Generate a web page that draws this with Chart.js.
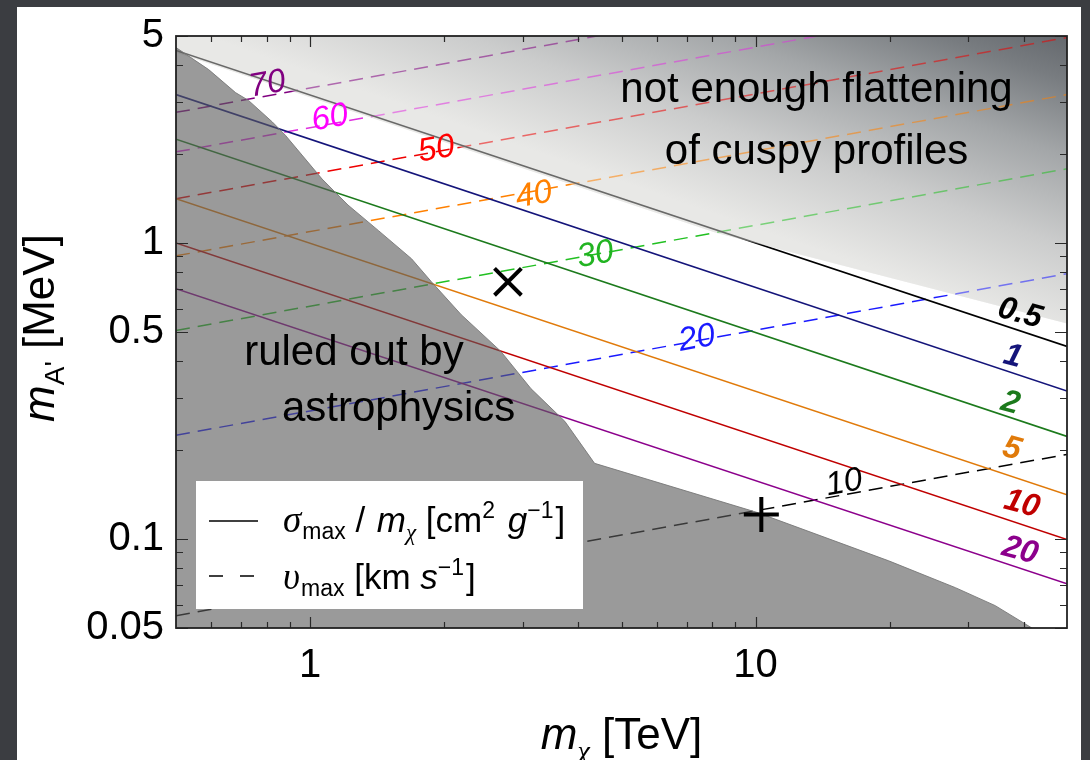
<!DOCTYPE html>
<html>
<head>
<meta charset="utf-8">
<script src="https://cdn.jsdelivr.net/npm/chart.js@4.4.1/dist/chart.umd.min.js"></script>
<style>
  html, body { margin: 0; padding: 0; }
  body { width: 1090px; height: 760px; background: #3b3d41; position: relative; overflow: hidden; }
  #panel { position: absolute; left: 17px; top: 7px; width: 1064px; height: 760px; background: #fff; }
  #wrap { position: absolute; left: 0; top: 0; width: 1090px; height: 760px; }
</style>
</head>
<body>
<div id="panel"></div>
<div id="wrap"><canvas id="chart" width="1090" height="760"></canvas></div>
<script>
// axes (log-log)
const xRange = [0.5, 50];
const yRange = [0.05, 5];
const xTickLabels = [1, 10];
const xMinorTicks = [0.6, 0.7, 0.8, 0.9, 2, 3, 4, 5, 6, 7, 8, 9, 20, 30, 40];
const yTickLabels = [0.05, 0.1, 0.5, 1, 5];
const yMinorTicks = [0.06, 0.07, 0.08, 0.09, 0.2, 0.3, 0.4, 0.6, 0.7, 0.8, 0.9, 2, 3, 4];

// sigma_max / m_chi contours (solid): m_A' at the two ends of the x range
const sigmaLevels = ['0.5', '1', '2', '5', '10', '20'];
const sigmaEnds = [0.5, 50];
const sigmaAtStart = [4.47, 3.17, 2.24, 1.41, 1.0, 0.70];
const sigmaAtEnd = [0.447, 0.316, 0.222, 0.141, 0.0995, 0.0705];
const sigmaColors = ['#000000', '#14147a', '#1c7a1c', '#e07a0a', '#c00000', '#8c008c'];
const sigmaLabelX = [39.2, 37.8, 37.3, 37.6, 39.6, 39.2];
const sigmaLabelY = [0.577, 0.413, 0.287, 0.201, 0.131, 0.0912];

// v_max contours (dashed)
const vLevels = ['10', '20', '30', '40', '50', '60', '70'];
const vEnds = [0.5, 50];
const vAtStart = [0.055, 0.224, 0.506, 0.904, 1.41, 2.03, 2.76];
const vAtEnd = [0.193, 0.787, 1.78, 3.17, 4.94, 7.1, 9.7];
const vColors = ['#000000', '#1a1aff', '#22c022', '#ff8000', '#ee0000', '#e030e0', '#800080'];
const vLabelColors = ['#000000', '#1a1aff', '#22b422', '#ff8000', '#ff0000', '#ff00ff', '#800080'];
const vLabelX = [15.8, 7.38, 4.37, 3.18, 1.92, 1.108, 0.802];
const vLabelY = [0.1544, 0.475, 0.911, 1.45, 2.07, 2.64, 3.43];

// excluded regions
const astroX = [0.5, 0.592, 0.68, 0.727, 0.823, 0.88, 1.064, 1.216, 1.426, 1.689, 1.872, 2.184, 2.68, 3.13, 3.73, 4.35, 10.05, 19.9, 28.1, 34.5, 41.7];
const astroY = [4.57, 3.85, 3.22, 3.03, 2.56, 2.31, 1.643, 1.343, 1.098, 0.884, 0.739, 0.572, 0.430, 0.322, 0.2496, 0.180, 0.123, 0.0843, 0.0684, 0.0595, 0.05];
const flatX = [0.5, 8.18, 50];
const flatY = [4.40, 1.08, 0.534];

// benchmark points
const crossX = [2.78], crossY = [0.739];
const plusX = [10.3], plusY = [0.121];

const SANS = '"Liberation Sans", Arial, Helvetica, sans-serif';
const SERIF = '"Liberation Serif", "DejaVu Serif", serif';

const pts = (xs, ys) => xs.map((x, i) => ({ x: x, y: ys[i] }));

function flatGradient(chart, alpha) {
  const a = chart.chartArea;
  if (!a) return 'rgba(200,200,200,' + alpha + ')';
  const g = chart.ctx.createLinearGradient(a.left + 624, a.top + 208, a.left + 718, a.top - 61);
  const stops = [[0, '232,232,230'], [0.3, '203,204,204'], [0.6, '163,166,168'], [0.85, '120,124,128'], [1, '100,104,109']];
  stops.forEach(s => g.addColorStop(s[0], 'rgba(' + s[1] + ',' + alpha + ')'));
  return g;
}

const datasets = [];
datasets.push({
  data: pts(flatX, flatY), showLine: true, fill: 'end', borderWidth: 0, pointRadius: 0,
  backgroundColor: c => flatGradient(c.chart, 1), order: 5
});
sigmaLevels.forEach((lv, i) => {
  datasets.push({
    label: 'sigma ' + lv, data: pts(sigmaEnds, [sigmaAtStart[i], sigmaAtEnd[i]]),
    showLine: true, fill: false, borderColor: sigmaColors[i], borderWidth: 1.6, pointRadius: 0, order: 4
  });
});
vLevels.forEach((lv, i) => {
  datasets.push({
    label: 'v ' + lv, data: pts(vEnds, [vAtStart[i], vAtEnd[i]]),
    showLine: true, fill: false, borderColor: vColors[i], borderWidth: 1.5, borderDash: [14, 8], pointRadius: 0, order: 4
  });
});
datasets.push({
  data: pts(flatX, flatY), showLine: true, fill: 'end', borderWidth: 0, pointRadius: 0,
  backgroundColor: c => flatGradient(c.chart, 0.45), order: 3
});
datasets.push({
  data: pts(astroX, astroY), showLine: true, fill: 'start', pointRadius: 0,
  backgroundColor: 'rgba(92,92,92,0.62)', borderColor: 'rgba(120,120,120,0.9)', borderWidth: 1, order: 2
});
datasets.push({
  data: pts(crossX, crossY), pointStyle: 'crossRot', pointRadius: 19, pointBorderWidth: 4,
  pointBorderColor: '#000', borderColor: '#000', order: 1
});
datasets.push({
  data: pts(plusX, plusY), pointStyle: 'cross', pointRadius: 17.5, pointBorderWidth: 4,
  pointBorderColor: '#000', borderColor: '#000', order: 1
});

function drawRuns(ctx, x, y, runs, align) {
  let w = 0;
  runs.forEach(r => { ctx.font = r.font; w += ctx.measureText(r.t).width + (r.gap || 0); });
  let cx = align === 'center' ? x - w / 2 : x;
  runs.forEach(r => {
    ctx.font = r.font;
    ctx.fillText(r.t, cx, y + (r.dy || 0));
    cx += ctx.measureText(r.t).width + (r.gap || 0);
  });
}

const decorations = {
  id: 'decorations',
  afterDatasetsDraw(chart) {
    const ctx = chart.ctx, a = chart.chartArea;
    const xs = chart.scales.x, ys = chart.scales.y;
    ctx.save();

    // region texts
    ctx.fillStyle = '#000';
    ctx.textAlign = 'center';
    ctx.textBaseline = 'middle';
    ctx.font = '42px ' + SANS;
    ctx.fillText('not enough flattening', xs.getPixelForValue(13.7), ys.getPixelForValue(3.27));
    ctx.fillText('of cuspy profiles', xs.getPixelForValue(13.7), ys.getPixelForValue(2.02));
    ctx.fillText('ruled out by', xs.getPixelForValue(1.254), ys.getPixelForValue(0.423));
    ctx.fillText('astrophysics', xs.getPixelForValue(1.58), ys.getPixelForValue(0.274));

    // contour labels
    vLevels.forEach((lv, i) => {
      ctx.save();
      ctx.translate(xs.getPixelForValue(vLabelX[i]), ys.getPixelForValue(vLabelY[i]));
      ctx.rotate(-10.3 * Math.PI / 180);
      ctx.fillStyle = vLabelColors[i];
      ctx.font = 'italic 33px ' + SANS;
      ctx.fillText(lv, 0, 0);
      ctx.restore();
    });
    sigmaLevels.forEach((lv, i) => {
      ctx.save();
      ctx.translate(xs.getPixelForValue(sigmaLabelX[i]), ys.getPixelForValue(sigmaLabelY[i]));
      ctx.rotate(15 * Math.PI / 180);
      ctx.fillStyle = sigmaColors[i];
      ctx.font = 'italic bold 32px ' + SANS;
      ctx.fillText(lv, 0, 0);
      ctx.restore();
    });

    // legend box
    const bx = a.left + 20, by = a.bottom - 147, bw = 387, bh = 128;
    ctx.fillStyle = '#fff';
    ctx.fillRect(bx, by, bw, bh);
    ctx.strokeStyle = '#000';
    ctx.lineWidth = 1.6;
    ctx.beginPath();
    ctx.moveTo(bx + 13, by + 40); ctx.lineTo(bx + 62, by + 40);
    ctx.stroke();
    ctx.setLineDash([14, 17]);
    ctx.beginPath();
    ctx.moveTo(bx + 13, by + 95); ctx.lineTo(bx + 62, by + 95);
    ctx.stroke();
    ctx.setLineDash([]);
    ctx.fillStyle = '#000';
    ctx.textAlign = 'left';
    ctx.textBaseline = 'alphabetic';
    const F = 35, S = 23;
    drawRuns(ctx, bx + 87, by + 51, [
      { t: 'σ', font: 'italic ' + (F + 2) + 'px ' + SERIF, gap: 1 },
      { t: 'max', font: S + 'px ' + SANS, dy: 7 },
      { t: ' / ', font: F + 'px ' + SANS, gap: 2 },
      { t: 'm', font: 'italic ' + F + 'px ' + SANS },
      { t: 'χ', font: 'italic ' + S + 'px ' + SERIF, dy: 8 },
      { t: ' [cm', font: F + 'px ' + SANS },
      { t: '2', font: S + 'px ' + SANS, dy: -14, gap: 3 },
      { t: ' ', font: F + 'px ' + SANS },
      { t: 'g', font: 'italic ' + F + 'px ' + SANS },
      { t: '−1', font: S + 'px ' + SANS, dy: -14, gap: 2 },
      { t: ']', font: F + 'px ' + SANS }
    ], 'left');
    drawRuns(ctx, bx + 87, by + 108, [
      { t: 'υ', font: 'italic ' + (F + 2) + 'px ' + SERIF, gap: 1 },
      { t: 'max', font: S + 'px ' + SANS, dy: 7 },
      { t: ' [km ', font: F + 'px ' + SANS },
      { t: 's', font: 'italic ' + F + 'px ' + SANS },
      { t: '−1', font: S + 'px ' + SANS, dy: -14, gap: 2 },
      { t: ']', font: F + 'px ' + SANS }
    ], 'left');

    // inward ticks on all four sides
    ctx.strokeStyle = '#2a2a2a';
    ctx.lineWidth = 1.2;
    const tick = (vals, len, horiz) => {
      vals.forEach(v => {
        ctx.beginPath();
        if (horiz) {
          const px = Math.round(xs.getPixelForValue(v)) + 0.5;
          ctx.moveTo(px, a.bottom); ctx.lineTo(px, a.bottom - len);
          ctx.moveTo(px, a.top); ctx.lineTo(px, a.top + len);
        } else {
          const py = Math.round(ys.getPixelForValue(v)) + 0.5;
          ctx.moveTo(a.left, py); ctx.lineTo(a.left + len, py);
          ctx.moveTo(a.right, py); ctx.lineTo(a.right - len, py);
        }
        ctx.stroke();
      });
    };
    tick(xTickLabels, 11, true);
    tick(xMinorTicks, 6, true);
    tick(yTickLabels, 12, false);
    tick(yMinorTicks, 7, false);

    // frame
    ctx.lineWidth = 1.8;
    ctx.strokeStyle = '#222';
    ctx.strokeRect(a.left, a.top, a.right - a.left, a.bottom - a.top);

    // axis titles
    ctx.fillStyle = '#000';
    drawRuns(ctx, (a.left + a.right) / 2, 749, [
      { t: 'm', font: 'italic 44px ' + SANS },
      { t: 'χ', font: 'italic 28px ' + SERIF, dy: 11 },
      { t: ' [TeV]', font: '44px ' + SANS }
    ], 'center');
    ctx.save();
    ctx.translate(54, 328);
    ctx.rotate(-Math.PI / 2);
    drawRuns(ctx, 0, 0, [
      { t: 'm', font: 'italic 44px ' + SANS },
      { t: 'A\'', font: '28px ' + SANS, dy: 10 },
      { t: ' [MeV]', font: '44px ' + SANS }
    ], 'center');
    ctx.restore();

    ctx.restore();
  }
};

new Chart(document.getElementById('chart'), {
  type: 'scatter',
  data: { datasets: datasets },
  options: {
    responsive: false,
    animation: false,
    events: [],
    layout: { padding: { left: 0, top: 32, right: 19, bottom: 0 } },
    plugins: { legend: { display: false }, tooltip: { enabled: false } },
    elements: { line: { tension: 0 } },
    scales: {
      x: {
        type: 'logarithmic', min: xRange[0], max: xRange[1],
        afterBuildTicks: s => { s.ticks = xTickLabels.map(v => ({ value: v })); },
        afterFit: s => { s.height = 132; },
        ticks: { color: '#000', font: { size: 40, family: SANS }, padding: 14, maxRotation: 0, autoSkip: false, callback: v => String(v) },
        grid: { display: false, drawTicks: false },
        border: { display: false }
      },
      y: {
        type: 'logarithmic', min: yRange[0], max: yRange[1],
        afterBuildTicks: s => { s.ticks = yTickLabels.map(v => ({ value: v })); },
        afterFit: s => { s.width = 176; },
        ticks: { color: '#000', font: { size: 40, family: SANS }, padding: 12, autoSkip: false, callback: v => String(v) },
        grid: { display: false, drawTicks: false },
        border: { display: false }
      }
    }
  },
  plugins: [decorations]
});
</script>
</body>
</html>
